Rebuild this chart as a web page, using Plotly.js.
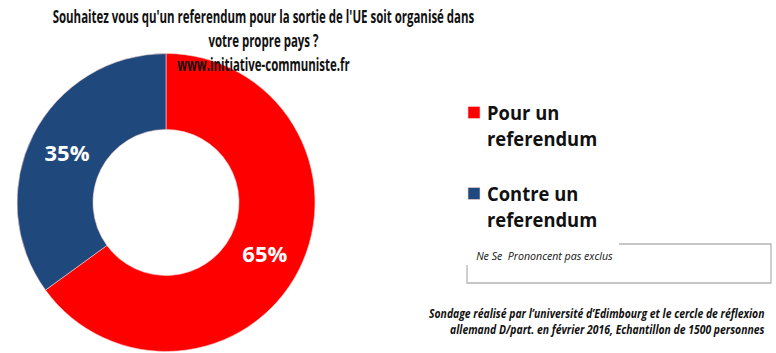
<!DOCTYPE html>
<html><head><meta charset="utf-8">
<script src="https://cdn.plot.ly/plotly-3.0.1.min.js"></script>
<style>body{margin:0;background:#fff}#c{width:776px;height:353px}</style>
</head><body><div id="c"></div>
<script>
const labels = ["Pour un<br>referendum<br> ", "Contre un<br>referendum<br> "];
const values = [65, 35];
const colors = ["#ff0000", "#1f497d"];
const titleLines = ["Souhaitez vous qu'un referendum pour la sortie de l'UE soit organisé dans", "votre propre pays ?", "www.initiative-communiste.fr"];
const noteText = "Ne Se  Prononcent pas exclus";
const sourceLines = ["Sondage réalisé par l’université d’Edimbourg et le cercle de réflexion", "allemand D/part. en février 2016, Echantillon de 1500 personnes"];

const font = "'Open Sans', 'DejaVu Sans', sans-serif";
const W = 776, H = 353;
const px = x => x / W, py = y => 1 - y / H;

const data = [{
  type: "pie", labels: labels, values: values, hole: 0.49, sort: false,
  direction: "clockwise", rotation: 0,
  marker: {colors: colors, line: {width: 0.6, color: "#f4d0d0"}},
  textinfo: "percent", textposition: "inside", insidetextorientation: "horizontal",
  textfont: {color: "#ffffff", size: 22, family: font, weight: "bold"},
  domain: {x: [px(17), px(315)], y: [py(352), py(53)]},
  hoverinfo: "label+percent"
}];

const layout = {
  width: W, height: H, margin: {l: 0, r: 0, t: 0, b: 0},
  paper_bgcolor: "#fff",
  showlegend: true,
  legend: {x: px(454), y: py(93), xanchor: "left", yanchor: "top", valign: "top",
    font: {family: font, size: 20, color: "#111", weight: "bold"},
    tracegroupgap: 0, itemwidth: 30},
  shapes: [{type: "rect", xref: "paper", yref: "paper", x0: px(467), x1: px(771), y0: py(244), y1: py(283),
    line: {color: "#b4b4b4", width: 1.3}, fillcolor: "rgba(0,0,0,0)"}],
  annotations: [
    {text: "<b>" + titleLines.join("<br>") + "</b>", xref: "paper", yref: "paper", x: px(263), y: py(1), xanchor: "center", yanchor: "top",
      align: "center", showarrow: false, font: {family: font, size: 18.5, color: "#111"}},
    {text: "<i>" + noteText + "</i>", xref: "paper", yref: "paper", x: px(474), y: py(246), xanchor: "left", yanchor: "top",
      showarrow: false, font: {family: font, size: 11, color: "#111"}},
    {text: "<b><i>" + sourceLines.join("<br>") + "</i></b>", xref: "paper", yref: "paper", x: px(767), y: py(303), xanchor: "right", yanchor: "top",
      align: "right", showarrow: false, font: {family: font, size: 12, color: "#111"}}
  ]
};

// Horizontal condensing to mimic the narrow original typeface
const fits = [{idx: 0, width: 422, origin: "center"}, {idx: 1, width: 137, origin: "left"}, {idx: 2, width: 336, origin: "right"}];
Plotly.newPlot("c", data, layout, {displayModeBar: false, staticPlot: true}).then(gd => {
  const anns = gd.querySelectorAll("g.annotation");
  fits.forEach(f => {
    const t = anns[f.idx] && anns[f.idx].querySelector("text.annotation-text");
    if (!t) return;
    const w = t.getBBox().width;
    const s = f.width / w;
    t.style.transformBox = "fill-box";
    t.style.transformOrigin = f.origin + " center";
    t.style.transform = "scaleX(" + s + ")";
  });
  gd.querySelectorAll("g.legend text.legendtext").forEach(t => {
    t.style.transformBox = "fill-box";
    t.style.transformOrigin = "left center";
    t.style.transform = "translateX(-7px) scaleX(0.92)";
  });
});
</script></body></html>
